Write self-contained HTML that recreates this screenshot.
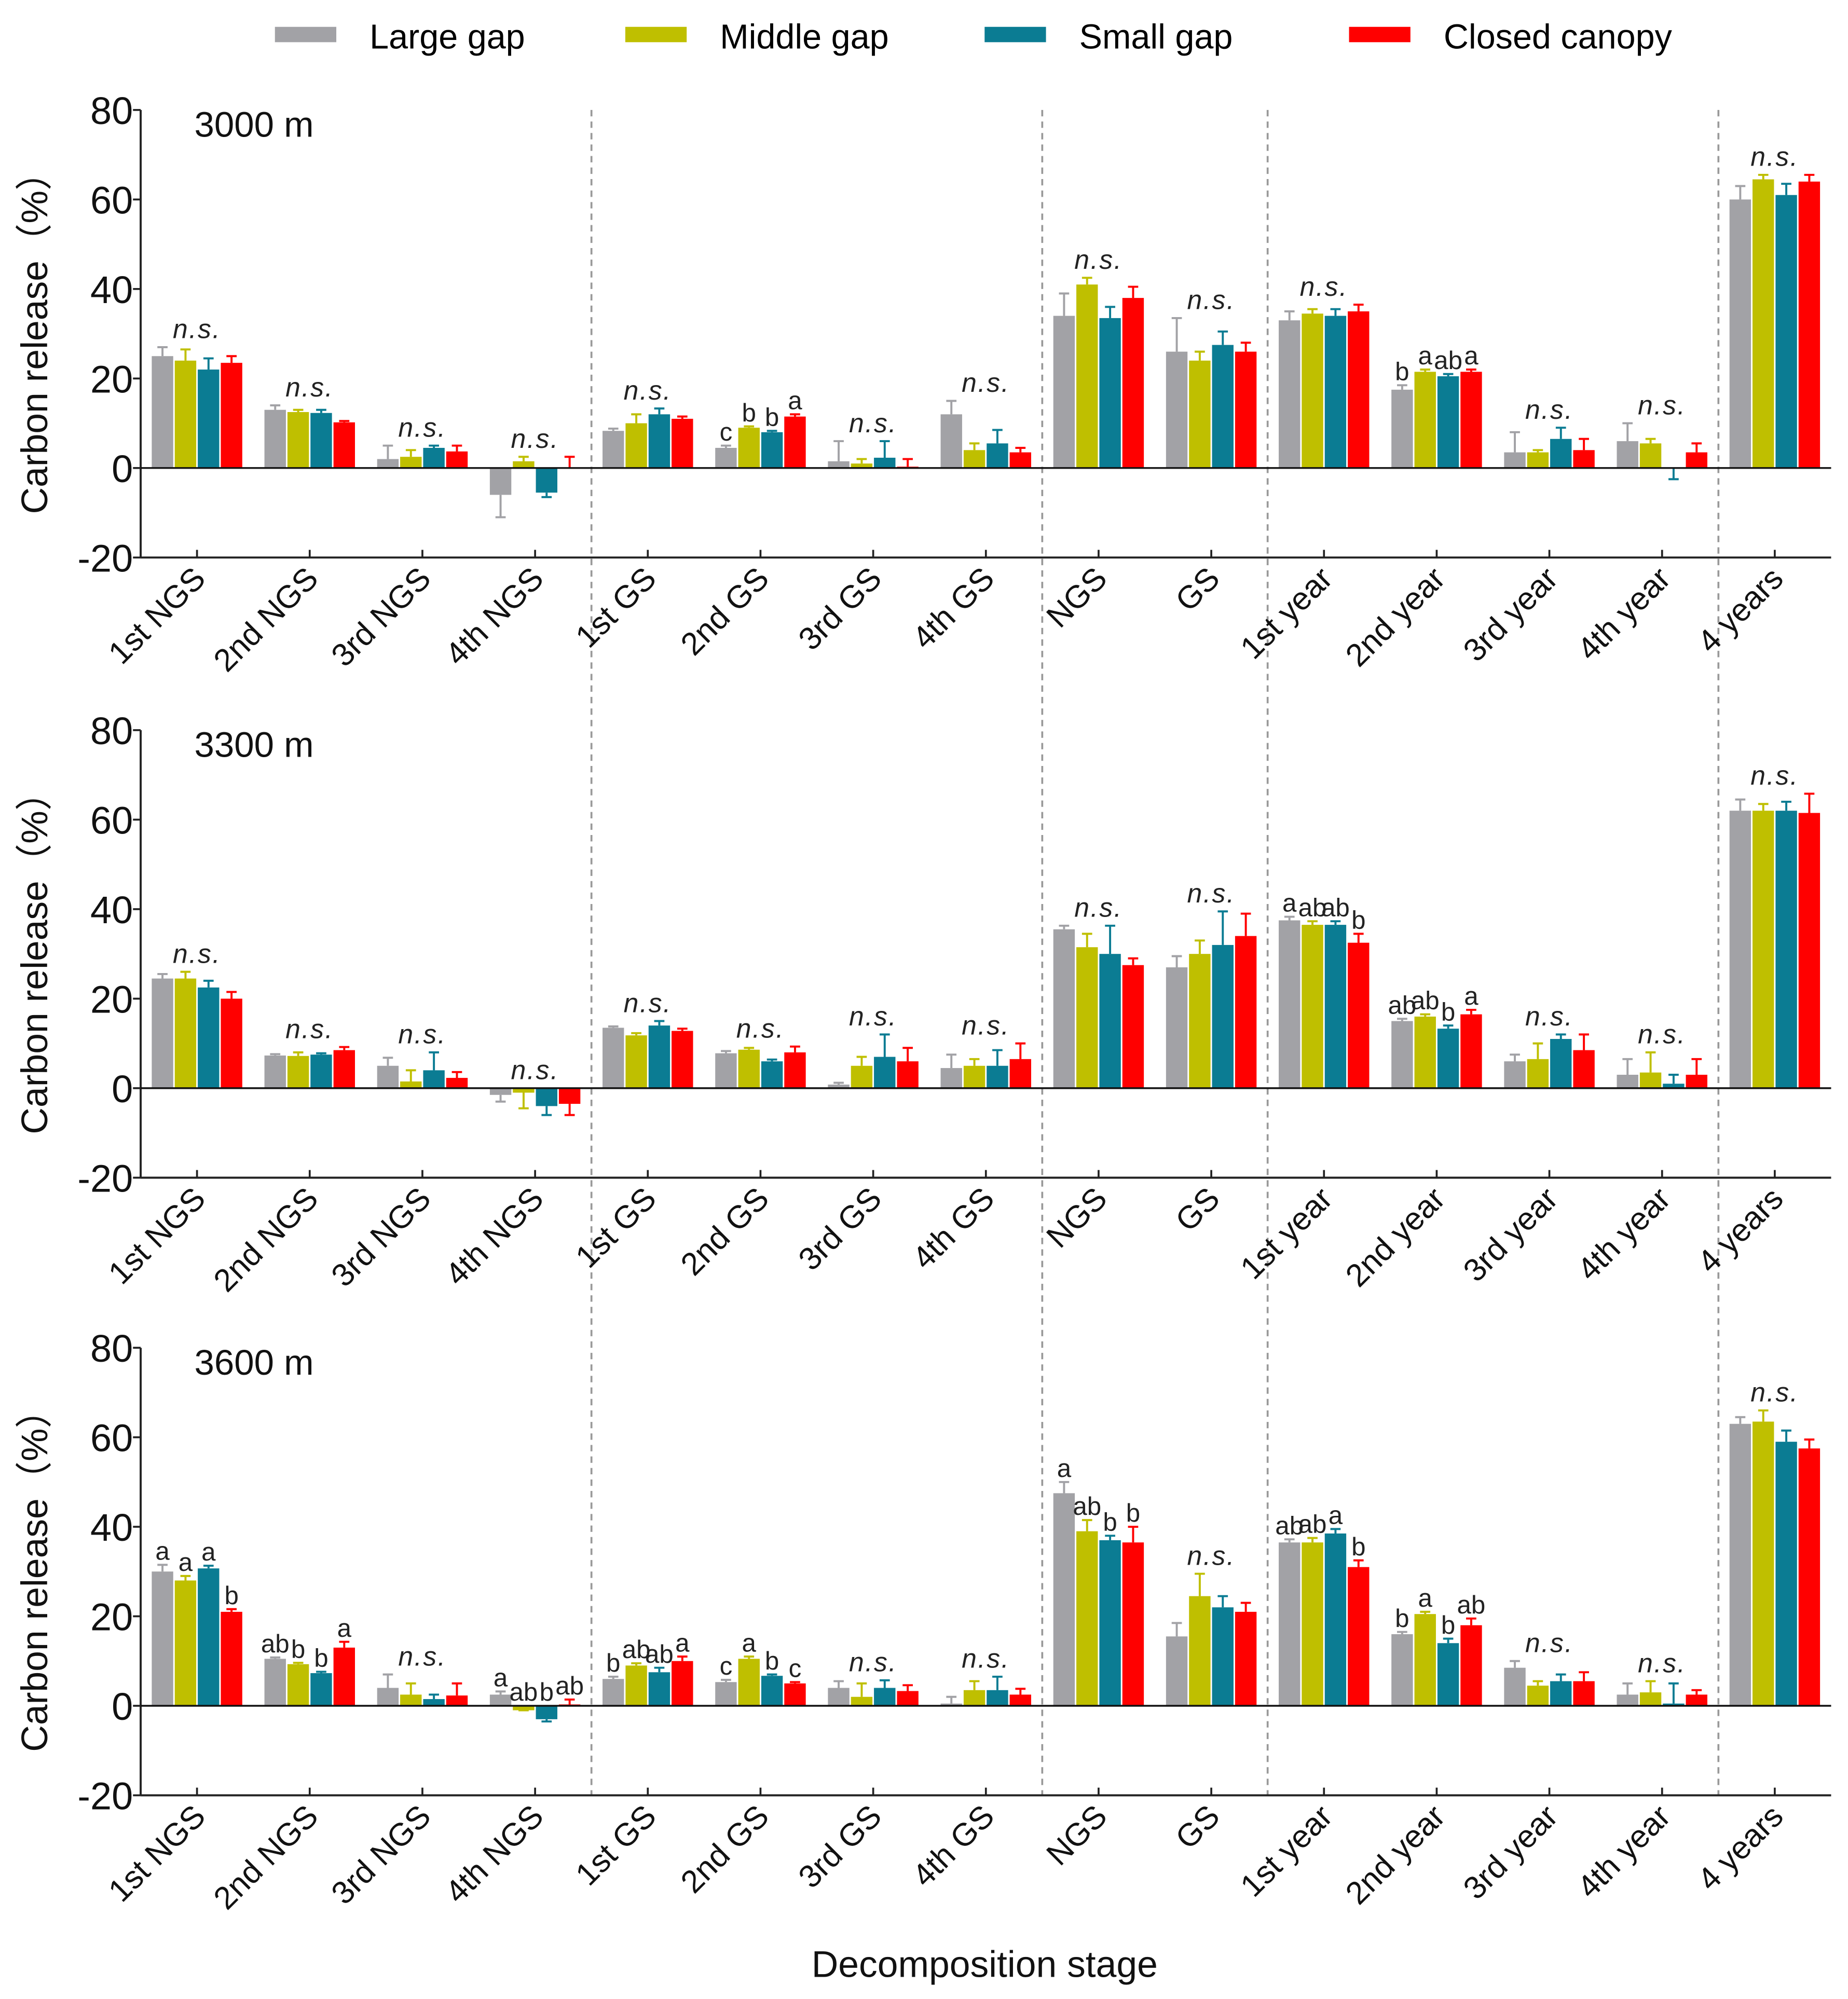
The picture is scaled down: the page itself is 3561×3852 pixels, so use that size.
<!DOCTYPE html>
<html><head><meta charset="utf-8"><style>
html,body{margin:0;padding:0;background:#fff;}
svg{display:block;font-family:"Liberation Sans",Arial,sans-serif;}
</style></head><body>
<svg id="chart" width="3561" height="3852" viewBox="0 0 1445.2 1563.3" xmlns="http://www.w3.org/2000/svg"></svg>
<script>
const categories=["1st NGS","2nd NGS","3rd NGS","4th NGS","1st GS","2nd GS","3rd GS","4th GS","NGS","GS","1st year","2nd year","3rd year","4th year","4 years"];
const seriesNames=["Large gap","Middle gap","Small gap","Closed canopy"];
const colors=["#a2a2a6","#bfbf00","#0b7c93","#ff0000"];
const panelTitles=["3000 m","3300 m","3600 m"];
const yTicks=[80,60,40,20,0,-20];
const vals3000=[[25,24,22,23.5],[13,12.5,12.3,10.2],[2,2.5,4.5,3.7],[-6,1.5,-5.5,0],[8.3,10,12,11],[4.5,9,8,11.5],[1.5,1,2.3,0.3],[12,4,5.5,3.5],[34,41,33.5,38],[26,24,27.5,26],[33,34.5,34,35],[17.5,21.5,20.5,21.5],[3.5,3.5,6.5,4],[6,5.5,0,3.5],[60,64.5,61,64]];
const errs3000=[[27,26.5,24.5,25],[14,13,13,10.5],[5,4,5,5],[-11,2.5,-6.5,2.5],[8.8,12,13.3,11.5],[5,9.3,8.3,12],[6,2,6,2],[15,5.5,8.5,4.5],[39,42.5,36,40.5],[33.5,26,30.5,28],[35,35.5,35.5,36.5],[18.5,22,21,22],[8,4,9,6.5],[10,6.5,-2.5,5.5],[63,65.5,63.5,65.5]];
const sig3000=["ns","ns","ns","ns","ns",["c","b","b","a"],"ns","ns","ns","ns","ns",["b","a","ab","a"],"ns","ns","ns"];
const vals3300=[[24.5,24.5,22.5,20],[7.3,7.2,7.5,8.5],[5,1.5,4,2.3],[-1.5,-1,-4,-3.5],[13.5,11.8,14,12.8],[7.8,8.6,6,8],[0.8,5,7,6],[4.5,5,5,6.5],[35.5,31.5,30,27.5],[27,30,32,34],[37.5,36.5,36.5,32.5],[15,16,13.3,16.5],[6,6.5,11,8.5],[3,3.5,1,3],[62,62,62,61.5]];
const errs3300=[[25.5,26,24,21.5],[7.6,8,7.8,9.2],[6.8,4,8,3.6],[-3,-4.5,-6,-6],[13.8,12.3,15,13.3],[8.3,9,6.4,9.3],[1.2,7,12,9],[7.5,6.5,8.5,10],[36.3,34.5,36.3,29],[29.5,33,39.5,39],[38.3,37.3,37.3,34.5],[15.5,16.5,14,17.5],[7.5,10,12,12],[6.5,8,3,6.5],[64.5,63.5,64,65.8]];
const sig3300=["ns","ns","ns","ns","ns","ns","ns","ns","ns","ns",["a","ab","ab","b"],["ab","ab","b","a"],"ns","ns","ns"];
const vals3600=[[30,28,30.7,21],[10.5,9.3,7.3,13],[4,2.5,1.5,2.3],[2.5,-1,-3,0.3],[6,9,7.5,10],[5.3,10.5,6.7,5],[4,2,4,3.3],[0.5,3.5,3.5,2.5],[47.5,39,37,36.5],[15.5,24.5,22,21],[36.5,36.5,38.5,31],[16,20.5,14,18],[8.5,4.5,5.5,5.5],[2.5,3,0.5,2.5],[63,63.5,59,57.5]];
const errs3600=[[31.5,29,31.3,21.6],[10.8,9.6,7.6,14.3],[7,5,2.5,5],[3.2,-1,-3.5,1.4],[6.5,9.5,8.5,11],[5.8,11,7,5.3],[5.5,5,5.7,4.6],[2,5.5,6.5,3.8],[50,41.5,38,40],[18.5,29.5,24.5,23],[37.2,37.5,39.5,32.5],[16.5,21,15,19.5],[10,5.5,7,7.5],[5,5.5,5,3.5],[64.5,66,61.5,59.5]];
const sig3600=[["a","a","a","b"],["ab","b","b","a"],"ns",["a","ab","b","ab"],["b","ab","ab","a"],["c","a","b","c"],"ns","ns",["a","ab","b","b"],"ns",["ab","ab","a","b"],["b","a","b","ab"],"ns","ns","ns"];
const panels=[{v:vals3000,e:errs3000,s:sig3000,zero:366},{v:vals3300,e:errs3300,s:sig3300,zero:851},{v:vals3600,e:errs3600,s:sig3600,zero:1334}];

const NS="http://www.w3.org/2000/svg";
const svg=document.getElementById('chart');
function mk(tag,attrs,parent,txt){const el=document.createElementNS(NS,tag);for(const k in attrs)el.setAttribute(k,attrs[k]);if(txt!==undefined)el.textContent=txt;(parent||svg).appendChild(el);return el;}
const X0=110,X1=1432,bw=(X1-X0)/categories.length;
const barW=16.8,gap=1.2;
function xC(i){return X0+bw*(i+0.5);}
function xBar(i,j){return xC(i)-2*barW-1.5*gap+j*(barW+gap);}
const pxPerUnit=70/20;

const legX=[215,489,770,1055];
seriesNames.forEach((n,j)=>{
  const g=mk('g',{});
  
  
  mk('rect',{x:legX[j],y:21,width:48,height:12,fill:colors[j]},g);
  mk('text',{x:legX[j]+74,y:38,'font-size':27,fill:'#000'},g,n);
});

[4,8,10,14].forEach(k=>{
  const l=mk('line',{x1:X0+bw*k,x2:X0+bw*k,y1:86,y2:1404,stroke:'#999','stroke-width':1.5,'stroke-dasharray':'5,4'});
  
  
});

panels.forEach((p,pi)=>{
  const g=mk('g',{});
  
  
  const y=v=>p.zero-v*pxPerUnit;
  const top=y(80),bot=y(-20);
  mk('line',{x1:X0,x2:X0,y1:top,y2:bot,stroke:'#222','stroke-width':1.6},g);
  mk('line',{x1:X0,x2:X1,y1:bot,y2:bot,stroke:'#222','stroke-width':1.6},g);
  yTicks.forEach(t=>{
    mk('line',{x1:X0-6,x2:X0,y1:y(t),y2:y(t),stroke:'#222','stroke-width':1.5},g);
    const tl=mk('text',{x:X0-6,y:y(t)+11,'font-size':30,'text-anchor':'end',fill:'#111'},g,String(t));
    
    
  });
  const yt=mk('text',{transform:`translate(37,${(top+bot)/2}) rotate(-90)`,'font-size':29,'text-anchor':'middle',fill:'#111'},g,'Carbon release（%）');
  
  
  const pt=mk('text',{x:152,y:top+21,'font-size':28,fill:'#111'},g,panelTitles[pi]);
  
  
  categories.forEach((c,i)=>{
    mk('line',{x1:xC(i),x2:xC(i),y1:bot-6,y2:bot,stroke:'#222','stroke-width':1.5},g);
    const xl=mk('text',{transform:`translate(${xC(i)+8},${bot+18}) rotate(-45)`,'font-size':25,'text-anchor':'end',fill:'#111'},g,c);
    
    
    let maxTop=-1e9;
    for(let j=0;j<4;j++){
      const v=p.v[i][j],e=p.e[i][j];
      const x=xBar(i,j);
      const r=mk('rect',{x:x,y:Math.min(y(v),y(0)),width:barW,height:Math.max(Math.abs(y(v)-y(0)),0.01),fill:colors[j]},g);
      
      
      const cx=x+barW/2;
      mk('line',{x1:cx,x2:cx,y1:y(v),y2:y(e),stroke:colors[j],'stroke-width':1.6},g);
      mk('line',{x1:cx-4,x2:cx+4,y1:y(e),y2:y(e),stroke:colors[j],'stroke-width':1.6},g);
      const tp=Math.max(v,e,0);
      if(tp>maxTop)maxTop=tp;
      if(Array.isArray(p.s[i])){
        const lt=mk('text',{x:cx,y:y(tp)-4,'font-size':20,'text-anchor':'middle',fill:'#222'},g,p.s[i][j]);
        
        
      }
    }
    if(p.s[i]==="ns"){
      const nt=mk('text',{x:xC(i),y:y(maxTop)-7,'font-size':21,'font-style':'italic','text-anchor':'middle',fill:'#222','letter-spacing':1},g,'n.s.');
      
      
    }
  });
  mk('line',{x1:X0,x2:X1,y1:y(0),y2:y(0),stroke:'#111','stroke-width':1.4},g);
});
const xt=mk('text',{x:770,y:1546,'font-size':29,'text-anchor':'middle',fill:'#111'},svg,'Decomposition stage');


</script>
</body></html>
